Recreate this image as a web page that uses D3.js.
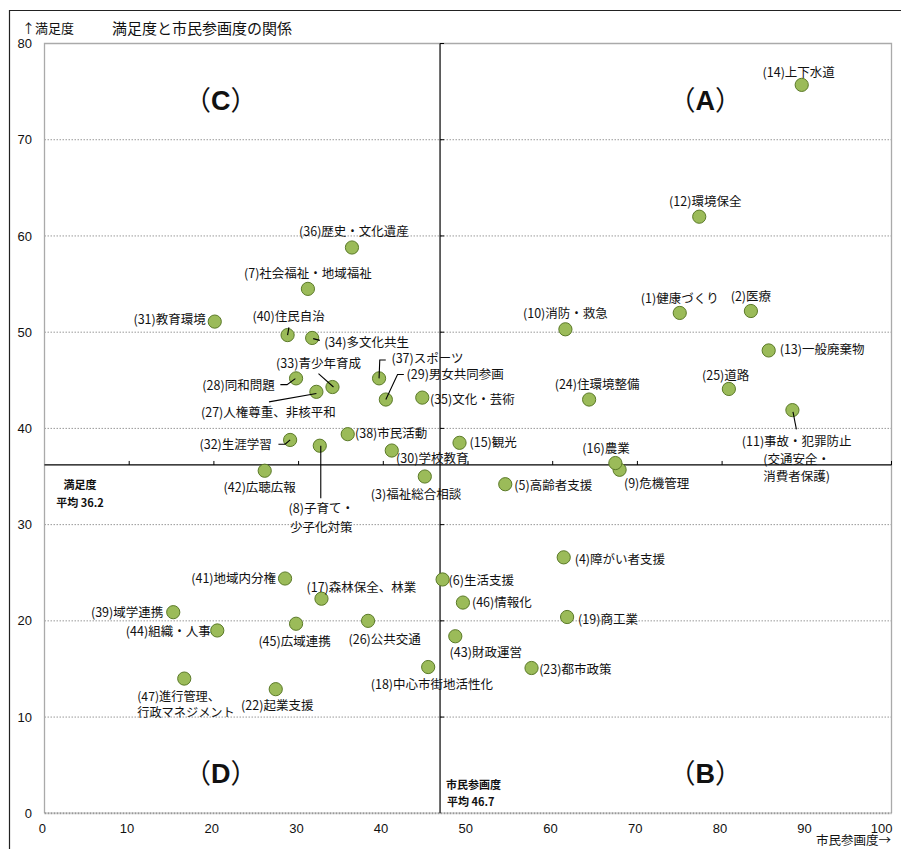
<!DOCTYPE html>
<html><head><meta charset="utf-8">
<script src="https://cdn.jsdelivr.net/npm/d3@7"></script>
<style>
body{margin:0;background:#fff;}
svg{display:block;}
text{font-family:"Noto Sans CJK JP","Noto Sans",sans-serif;fill:#111;}
.num{font-family:"Liberation Sans",Arial,sans-serif;}
</style></head>
<body><svg id="c" width="901" height="849"></svg>
<script>
// ---- data ----
const ids = [1,2,3,4,5,6,7,8,9,10,11,12,13,14,15,16,17,18,19,22,23,24,25,26,27,28,29,30,31,32,33,34,35,36,37,38,39,40,41,42,43,44,45,46,47];
const labels = ["(1)健康づくり","(2)医療","(3)福祉総合相談","(4)障がい者支援","(5)高齢者支援","(6)生活支援",
 "(7)社会福祉・地域福祉","(8)子育て・\n少子化対策","(9)危機管理","(10)消防・救急",
 "(11)事故・犯罪防止\n(交通安全・\n消費者保護)","(12)環境保全","(13)一般廃棄物","(14)上下水道","(15)観光","(16)農業",
 "(17)森林保全、林業","(18)中心市街地活性化","(19)商工業","(22)起業支援","(23)都市政策","(24)住環境整備","(25)道路",
 "(26)公共交通","(27)人権尊重、非核平和","(28)同和問題","(29)男女共同参画","(30)学校教育","(31)教育環境","(32)生涯学習",
 "(33)青少年育成","(34)多文化共生","(35)文化・芸術","(36)歴史・文化遺産","(37)スポーツ","(38)市民活動","(39)域学連携",
 "(40)住民自治","(41)地域内分権","(42)広聴広報","(43)財政運営","(44)組織・人事","(45)広域連携","(46)情報化",
 "(47)進行管理、\n行政マネジメント"];
const participation = [75.0,83.4,44.9,61.3,54.4,47.0,31.1,32.5,67.9,61.5,88.3,77.3,85.5,89.4,49.0,67.4,32.7,45.3,61.7,27.3,57.5,64.3,80.8,38.2,32.1,29.7,40.3,41.0,20.1,29.0,34.0,31.6,44.6,36.3,39.5,35.8,15.2,28.7,28.4,26.0,48.5,20.4,29.7,49.4,16.5];
const satisfaction  = [52.0,52.2,35.0,26.6,34.2,24.3,54.5,38.2,35.7,50.3,41.9,62.0,48.1,75.7,38.5,36.4,22.3,15.2,20.4,12.9,15.1,43.0,44.1,20.0,43.8,45.2,43.0,37.7,51.1,38.8,44.3,49.4,43.2,58.8,45.2,39.4,20.9,49.7,24.4,35.6,18.4,19.0,19.7,21.9,14.0];
const meanParticipation = 46.7;
const meanSatisfaction = 36.2;
const xTicks = [0,10,20,30,40,50,60,70,80,90,100];
const yTicks = [0,10,20,30,40,50,60,70,80];
const quadrants = [{k:"A",x:78,y:74.1},{k:"B",x:78,y:4.2},{k:"C",x:20.8,y:74.1},{k:"D",x:20.8,y:4.2}];

// ---- label layout (pixel offsets from point) ----
const layout = {
 1:[0,-14.4,'middle'],2:[0,-15,'middle'],3:[-8.8,18.3,'middle'],4:[11,1.7,'start'],5:[9,1,'start'],6:[6,1.4,'start'],
 7:[0,-15,'middle'],8:[1.5,62.6,'middle',19.4],9:[4.3,13.4,'start'],10:[0,-16,'middle'],11:[4.3,31.7,'middle',17.5],
 12:[6,-15,'middle'],13:[11,-0.7,'start'],14:[-3,-12.6,'middle'],15:[10,0,'start'],16:[-9.4,-15,'middle'],
 17:[-15,-11.3,'start'],18:[3.7,17.7,'middle'],19:[11,2,'start'],22:[1.5,16.7,'middle'],23:[7.6,1,'start'],
 24:[8,-15.4,'middle'],25:[-3.2,-13.3,'middle'],26:[16.6,18.3,'middle'],27:[-48,21,'middle'],28:[-21.4,7,'end'],
 29:[20.7,-25.3,'start'],30:[4.3,8.3,'start'],31:[-9,-1.7,'end'],32:[-18.3,4.3,'end'],33:[-14,-24,'middle'],
 34:[12,4.4,'start'],35:[7.7,2,'start'],36:[2,-15.6,'middle'],37:[12.4,-19.6,'start'],38:[7.3,-0.7,'start'],
 39:[-10,0.6,'end'],40:[1,-18.3,'middle'],41:[-9,0,'end'],42:[-5,16.6,'middle'],43:[-5.7,16.6,'start'],
 44:[-6.6,1,'end'],45:[-1.5,17.7,'middle'],46:[9,0.4,'start'],47:[-47,18.2,'start',16]
};
const leaders = {
 40:[[1.3,-7.7],[0,0]], 34:[[1,0.7],[7.7,2.4]], 33:[[-14,-13.4],[1,0]],
 28:[[-15.7,6.3],[-9,6.3],[-0.7,0.3]], 27:[[-47.4,10],[0,1.6]],
 37:[[0,0],[0.7,-18.4],[6.7,-18.4]], 29:[[0,0],[11.7,-25],[18,-25]],
 32:[[-11.7,4.3],[-5,4.3],[0,0]], 8:[[1,0],[1,52.6]], 11:[[0.6,1.7],[4,19.3]]
};

// ---- drawing ----
const svg = d3.select("#c");
const x = d3.scaleLinear().domain([0,100]).range([44.5,891.5]);
const y = d3.scaleLinear().domain([0,80]).range([813.3,43.5]);

// outer frame
svg.append("path").attr("d","M9.5,849V10.5H901").attr("fill","none").attr("stroke","#222").attr("stroke-width",1.2);

// grid
svg.append("g").selectAll("line").data(yTicks.filter(v=>v>0&&v<80)).join("line")
 .attr("x1",x(0)).attr("x2",x(100)).attr("y1",d=>y(d)).attr("y2",d=>y(d))
 .attr("stroke","#999").attr("stroke-width",1).attr("stroke-dasharray","1.5,1.5");
// plot border
svg.append("path").attr("d",`M${x(0)},${y(0)}V${y(80)}H${x(100)}V${y(0)}`).attr("fill","none").attr("stroke","#aaa").attr("stroke-width",1.3);
svg.append("line").attr("x1",x(0)).attr("x2",x(100)).attr("y1",y(0)).attr("y2",y(0))
 .attr("stroke","#999").attr("stroke-width",2).attr("stroke-dasharray","2,1");

// mean lines
svg.append("line").attr("x1",x(0)).attr("x2",x(100)).attr("y1",y(meanSatisfaction)).attr("y2",y(meanSatisfaction)).attr("stroke","#000").attr("stroke-width",1.2);
svg.append("line").attr("x1",x(meanParticipation)).attr("x2",x(meanParticipation)).attr("y1",y(0)).attr("y2",y(80)).attr("stroke","#000").attr("stroke-width",1.2);
svg.append("g").selectAll("line").data(xTicks.filter(v=>v>0)).join("line")
 .attr("x1",d=>x(d)).attr("x2",d=>x(d)).attr("y1",y(meanSatisfaction)).attr("y2",y(meanSatisfaction)-4)
 .attr("stroke","#000").attr("stroke-width",1);
svg.append("g").selectAll("line").data(yTicks.filter(v=>v>0)).join("line")
 .attr("x1",x(meanParticipation)).attr("x2",x(meanParticipation)+4).attr("y1",d=>y(d)).attr("y2",d=>y(d))
 .attr("stroke","#000").attr("stroke-width",1);

// axis labels
svg.append("g").selectAll("text").data(yTicks).join("text").attr("class","num")
 .attr("x",32).attr("y",d=>y(d)).attr("dy","0.35em").attr("text-anchor","end").attr("font-size",13).text(d=>d);
svg.append("g").selectAll("text").data(xTicks).join("text").attr("class","num")
 .attr("x",d=>d===100? x(d)+1 : x(d)-2.2).attr("y",828).attr("dy","0.35em")
 .attr("text-anchor",d=>d===100?"end":"middle").attr("font-size",13).text(d=>d);

svg.append("text").attr("x",22).attr("y",28).attr("dy","0.35em").attr("font-size",13).text("↑満足度");
svg.append("text").attr("x",112).attr("y",29).attr("dy","0.35em").attr("font-size",15).text("満足度と市民参画度の関係");
svg.append("text").attr("x",891).attr("y",841).attr("dy","0.35em").attr("text-anchor","end").attr("font-size",12.5).text("市民参画度→");

// mean annotations
const mS = svg.append("text").attr("font-size",11).attr("font-weight","bold").attr("text-anchor","middle");
mS.append("tspan").attr("x",80).attr("y",485).attr("dy","0.35em").text("満足度");
mS.append("tspan").attr("x",80).attr("y",502.7).attr("dy","0.35em").text("平均  "+meanSatisfaction);
const mP = svg.append("text").attr("font-size",11).attr("font-weight","bold");
mP.append("tspan").attr("x",446).attr("y",785).attr("dy","0.35em").text("市民参画度");
mP.append("tspan").attr("x",447).attr("y",801.7).attr("dy","0.35em").text("平均  "+meanParticipation);

// quadrant labels
quadrants.forEach(q=>{
 const t = svg.append("text").attr("x",x(q.x)).attr("y",y(q.y)).attr("dy","0.36em").attr("text-anchor","middle").attr("font-size",27);
 t.append("tspan").text("（");
 t.append("tspan").attr("font-weight","bold").attr("font-family","'Liberation Sans',Arial,sans-serif").text(q.k);
 t.append("tspan").text("）");
});

// points
const data = ids.map((id,i)=>({id, label:labels[i], px:participation[i], sy:satisfaction[i]}));
svg.append("g").selectAll("circle").data(data).join("circle")
 .attr("cx",d=>x(d.px)).attr("cy",d=>y(d.sy)).attr("r",6.6)
 .attr("fill","#9bbb59").attr("stroke","#5b7a28").attr("stroke-width",1);

// leaders
const lineGen = d3.line();
svg.append("g").selectAll("path").data(data.filter(d=>leaders[d.id])).join("path")
 .attr("d",d=>lineGen(leaders[d.id].map(p=>[x(d.px)+p[0], y(d.sy)+p[1]])))
 .attr("fill","none").attr("stroke","#000").attr("stroke-width",1.1);

// labels
const lg = svg.append("g");
data.forEach(d=>{
 const L = layout[d.id];
 const lh = L[3]||16;
 const t = lg.append("text").attr("font-size",d.id===47?12.2:12.5).attr("text-anchor",L[2]);
 d.label.split("\n").forEach((s,j)=>{
   t.append("tspan").attr("x",x(d.px)+L[0]).attr("y",y(d.sy)+L[1]+j*lh).attr("dy","0.36em").text(s);
 });
});
</script></body></html>
